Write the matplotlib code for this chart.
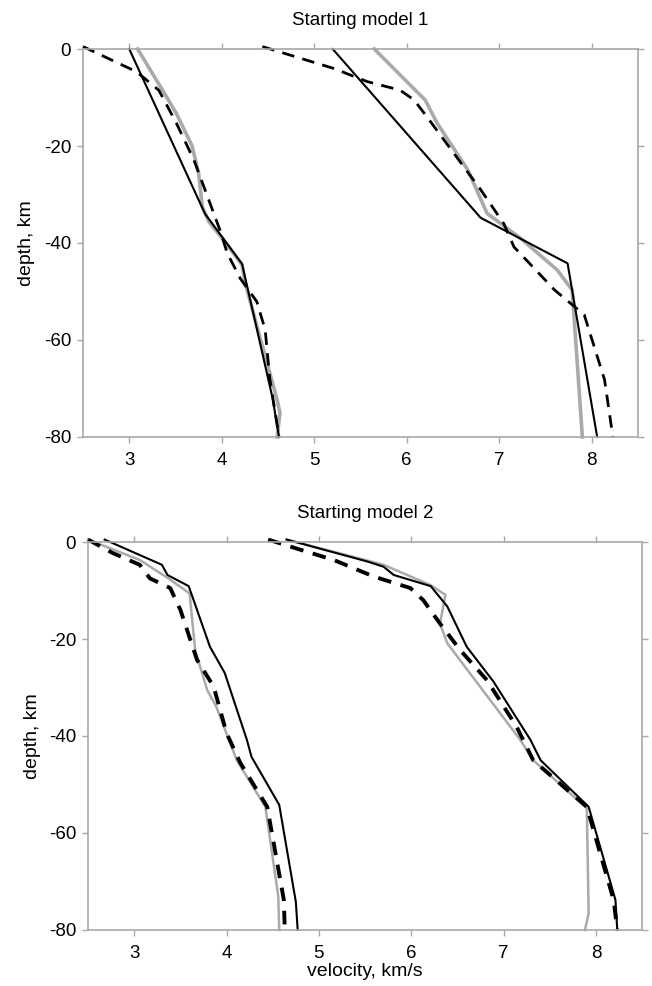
import numpy as np
import matplotlib
matplotlib.use("Agg")
import matplotlib.pyplot as plt

plt.rcParams['font.family'] = ['Liberation Sans', 'DejaVu Sans']
plt.rcParams['axes.unicode_minus'] = False

# ---- Starting model 1 ----
# S velocity curves
m1_s_start_v = [3.0, 3.82, 4.22, 4.55, 4.62]
m1_s_start_d = [0, -34, -44.3, -72, -80]
m1_s_true_v = [3.09, 3.37, 3.51, 3.68, 3.75, 3.79, 3.86, 4.02, 4.22, 4.25, 4.60, 4.63, 4.60]
m1_s_true_d = [0, -8.8, -13.3, -20, -25.6, -32.5, -35.6, -39.4, -44.5, -48, -72.4, -75, -80]
m1_s_inv_v = [2.5, 3.08, 3.32, 3.51, 3.70, 3.98, 4.06, 4.20, 4.38, 4.47, 4.52, 4.62]
m1_s_inv_d = [0.5, -4.7, -8.5, -15.3, -22.9, -37.3, -42.1, -47.3, -52.1, -57.9, -68, -80]
# P velocity curves
m1_p_start_v = [5.2, 6.8, 7.74, 8.06]
m1_p_start_d = [0, -34.8, -44.2, -80]
m1_p_true_v = [5.65, 6.0, 6.2, 6.33, 6.66, 6.87, 7.23, 7.63, 7.79, 7.90]
m1_p_true_d = [0, -6.7, -10.5, -15.3, -24.9, -33.9, -39, -45.6, -49.7, -80]
m1_p_inv_v = [4.44, 4.85, 5.21, 5.57, 5.93, 6.08, 6.22, 6.80, 7.05, 7.16, 7.60, 7.92, 8.14, 8.23]
m1_p_inv_d = [0.5, -1.9, -4, -6.7, -8.5, -10.5, -14, -29, -36, -40.8, -49.7, -54.8, -68.2, -80]

# ---- Starting model 2 ----
m2_s_start_v = [2.68, 3.30, 3.36, 3.59, 3.82, 3.98, 4.22, 4.27, 4.57, 4.75, 4.77]
m2_s_start_d = [0.5, -4.7, -6.8, -9.1, -21.6, -27, -40.8, -44.3, -54.2, -74.2, -80]
m2_s_true_v = [2.5, 3.06, 3.37, 3.60, 3.66, 3.79, 3.89, 4.11, 4.42, 4.56, 4.57]
m2_s_true_d = [0.5, -3.7, -7.5, -10.6, -22.3, -30.5, -34, -45, -54.6, -73.1, -80]
m2_s_inv_v = [2.5, 2.77, 3.06, 3.17, 3.39, 3.50, 3.68, 3.86, 4.00, 4.15, 4.44, 4.53, 4.62, 4.63]
m2_s_inv_d = [0.5, -2.3, -4.7, -7.5, -9.5, -14, -24.3, -29.8, -39.4, -45.6, -54.6, -64.2, -73.8, -80]
m2_p_start_v = [4.65, 5.52, 5.70, 5.81, 6.21, 6.39, 6.60, 6.89, 7.29, 7.40, 7.92, 8.21, 8.23]
m2_p_start_d = [0.5, -4, -5.1, -6.8, -9.1, -13.3, -21.6, -28.8, -40.8, -45, -54.6, -73.8, -80]
m2_p_true_v = [4.65, 5.70, 6.21, 6.37, 6.31, 6.39, 7.18, 7.32, 7.90, 7.92, 7.88]
m2_p_true_d = [0.5, -4.7, -8.9, -10.9, -16.8, -20.9, -40.8, -45, -54.9, -76.6, -80]
m2_p_inv_v = [4.45, 4.80, 5.16, 5.59, 5.99, 6.13, 6.31, 6.53, 6.82, 7.14, 7.32, 7.90, 8.19, 8.23]
m2_p_inv_d = [0.5, -1.6, -3.7, -7.1, -9.5, -12, -16.8, -22.3, -28.5, -38.1, -45, -54.6, -73.8, -80]

titles = ["Starting model 1", "Starting model 2"]
x_ticks = [3, 4, 5, 6, 7, 8]
y_ticks = [0, -20, -40, -60, -80]

fig = plt.figure(figsize=(6.52, 9.86), dpi=100)
ax1 = fig.add_axes([0.1273, 0.5568, 0.851, 0.3935])
ax2 = fig.add_axes([0.1350, 0.0568, 0.850, 0.3935])

grey = '#aaaaaa'
spine_c = '#a8a8a8'


def style(ax, title, xlabel=None):
    ax.set_xlim(2.5, 8.5)
    ax.set_ylim(-80, 0)
    ax.set_xticks(x_ticks)
    ax.set_yticks(y_ticks)
    ax.tick_params(direction='out', length=4.5, width=1, color=spine_c,
                   top=True, right=True, labelsize=13.5)
    ax.tick_params(axis='x', pad=6)
    ax.tick_params(axis='y', pad=4)
    for s in ax.spines.values():
        s.set_color(spine_c)
        s.set_linewidth(1.2)
    ax.set_title(title, fontsize=13.5, pad=17)
    ax.set_ylabel("depth, km", fontsize=14, labelpad=6)
    if xlabel:
        ax.set_xlabel(xlabel, fontsize=14, labelpad=1)


# top panel
ax1.plot(m1_s_true_v, m1_s_true_d, color=grey, lw=2.6, clip_on=False)
ax1.plot(m1_p_true_v, m1_p_true_d, color=grey, lw=2.6, clip_on=False)
ax1.plot(m1_s_start_v, m1_s_start_d, color='black', lw=1.5, clip_on=False)
ax1.plot(m1_p_start_v, m1_p_start_d, color='black', lw=1.5, clip_on=False)
ax1.plot(m1_s_inv_v, m1_s_inv_d, color='black', lw=2, ls=(0, (4.5, 3)), clip_on=False)
ax1.plot(m1_p_inv_v, m1_p_inv_d, color='black', lw=2, ls=(0, (4.5, 3)), clip_on=False)
style(ax1, titles[0])

# bottom panel
ax2.plot(m2_s_true_v, m2_s_true_d, color=grey, lw=1.8, clip_on=False)
ax2.plot(m2_p_true_v, m2_p_true_d, color=grey, lw=1.8, clip_on=False)
ax2.plot(m2_s_inv_v, m2_s_inv_d, color='black', lw=2.8, ls=(0, (3.5, 2.5)), clip_on=False)
ax2.plot(m2_p_inv_v, m2_p_inv_d, color='black', lw=2.8, ls=(0, (3.5, 2.5)), clip_on=False)
ax2.plot(m2_s_start_v, m2_s_start_d, color='black', lw=1.5, clip_on=False)
ax2.plot(m2_p_start_v, m2_p_start_d, color='black', lw=1.5, clip_on=False)
style(ax2, titles[1], "velocity, km/s")

fig.savefig("out.png", dpi=100)
